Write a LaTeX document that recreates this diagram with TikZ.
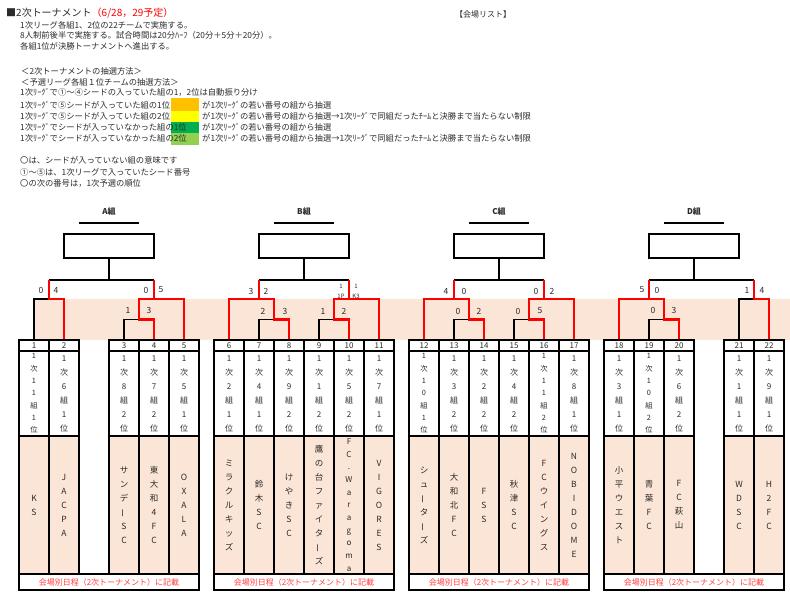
\documentclass[tikz,border=0pt]{standalone}
\usepackage{fontspec}
\setmainfont{Noto Sans CJK JP}
\definecolor{peach}{HTML}{FBE5D6}
\definecolor{txt}{HTML}{2B2B2B}
\definecolor{redline}{HTML}{FF0000}
\definecolor{foot}{HTML}{FF3F3F}
\definecolor{cOrange}{HTML}{FFC000}
\definecolor{cYellow}{HTML}{FFFF00}
\definecolor{cGreen}{HTML}{00B050}
\definecolor{cLGreen}{HTML}{92D050}
\newcommand\vbar{\rotatebox[origin=c]{90}{ー}}
\tikzset{
  tline/.style={anchor=west, inner sep=0pt, text=txt, font=\fontsize{8.3}{10}\selectfont},
  brk/.style={line width=1.3pt, black},
  win/.style={line width=2.8pt, redline},
  score/.style={inner sep=0pt, text=txt, font=\fontsize{8.5}{10}\selectfont},
  small/.style={inner sep=0pt, text=txt, font=\fontsize{6}{7}\selectfont},
  cellbase/.style={draw, line width=2.5pt, minimum width=30pt, inner sep=0pt, text=txt, align=center},
  hdr/.style={cellbase, minimum height=11pt, font=\fontsize{8}{9}\selectfont},
  inf/.style={cellbase, minimum height=85pt, font=\fontsize{8}{14}\selectfont},
  inflong/.style={font=\fontsize{7.3}{12.3}\selectfont},
  nam/.style={cellbase, fill=peach, minimum height=138pt, font=\fontsize{8.5}{14}\selectfont},
  namlong/.style={font=\fontsize{8}{12.7}\selectfont},
  footer/.style={draw, line width=2.5pt, minimum width=180pt, minimum height=16pt, inner sep=0pt, text=foot, font=\fontsize{8}{9}\selectfont},
  wbox/.style={draw, line width=2.6pt, minimum width=90pt, minimum height=24pt, inner sep=0pt},
  glabel/.style={inner sep=0pt, text=txt, font=\bfseries\fontsize{8}{9}\selectfont},
  swatch/.style={draw=none, minimum width=28pt, inner sep=0pt}
}
\newcommand\team[6]{%
  \node[hdr] (t#1) at (#2,345.5) {#1};
  \node[inf,#5] (i#1) at (#2,393.5) {#3};
  \node[nam,#6] (n#1) at (#2,505) {#4};
}
\begin{document}
\begin{tikzpicture}[x=1pt,y=-1pt]
\useasboundingbox (0,0) rectangle (790,601);
\fill[white] (0,0) rectangle (790,601);

% ---------- header text ----------
\node[anchor=west, inner sep=0pt, text=txt, font=\fontsize{10}{12}\selectfont] (title) at (6,13)
  {■2次トーナメント\textcolor{redline}{（6/28，29予定）}};
\node[inner sep=0pt, text=txt, font=\fontsize{8}{10}\selectfont] (venue) at (483,14) {【会場リスト】};
\node[tline] (l1) at (20,25) {1次リーグ各組1、2位の22チームで実施する。};
\node[tline] (l2) at (20,35.5) {8人制前後半で実施する。試合時間は20分ﾊｰﾌ（20分＋5分＋20分）。};
\node[tline] (l3) at (20,46) {各組1位が決勝トーナメントへ進出する。};
\node[tline] (l4) at (21,71) {＜2次トーナメントの抽選方法＞};
\node[tline] (l5) at (21,82) {＜予選リーグ各組１位チームの抽選方法＞};

\node[swatch, fill=cOrange, minimum height=13.5pt] (s1) at (185,104.75) {};
\node[swatch, fill=cYellow, minimum height=11pt] (s2) at (185,117) {};
\node[swatch, fill=cGreen, minimum height=11pt] (s3) at (185,128) {};
\node[swatch, fill=cLGreen, minimum height=11.5pt] (s4) at (185,139.25) {};

\node[tline] (l6) at (20,92.3) {1次ﾘｰｸﾞで①～④シードの入っていた組の1，2位は自動振り分け};
\node[tline] (l7) at (20,105.7) {1次ﾘｰｸﾞで⑤シードが入っていた組の1位};
\node[tline] (l8) at (20,116.7) {1次ﾘｰｸﾞで⑤シードが入っていた組の2位};
\node[tline] (l9) at (20,127.3) {1次ﾘｰｸﾞでシードが入っていなかった組の1位};
\node[tline] (l10) at (20,138.3) {1次ﾘｰｸﾞでシードが入っていなかった組の2位};
\node[tline] (r7) at (202,105.7) {が1次ﾘｰｸﾞの若い番号の組から抽選};
\node[tline] (r8) at (202,116.7) {が1次ﾘｰｸﾞの若い番号の組から抽選→1次ﾘｰｸﾞで同組だったﾁｰﾑと決勝まで当たらない制限};
\node[tline] (r9) at (202,127.3) {が1次ﾘｰｸﾞの若い番号の組から抽選};
\node[tline] (r10) at (202,138.3) {が1次ﾘｰｸﾞの若い番号の組から抽選→1次ﾘｰｸﾞで同組だったﾁｰﾑと決勝まで当たらない制限};
\node[tline] (l11) at (20,160.7) {〇は、シードが入っていない組の意味です};
\node[tline] (l12) at (20,172.3) {①～⑤は、1次リーグで入っていたシード番号};
\node[tline] (l13) at (20,183.5) {〇の次の番号は，1次予選の順位};

% ---------- peach band ----------
\fill[peach] (34,299) rectangle (790,340);

% ---------- group headers ----------
\node[glabel] (gA) at (109,211) {A組};
\node[glabel] (gB) at (304,211) {B組};
\node[glabel] (gC) at (499,211) {C組};
\node[glabel] (gD) at (694,211) {D組};
\foreach \c in {109,304,499,694} \draw[line width=1.2pt] (\c-30,223) -- (\c+30,223);
\node[wbox] (bA) at (109,246) {};
\node[wbox] (bB) at (304,246) {};
\node[wbox] (bC) at (499,246) {};
\node[wbox] (bD) at (694,246) {};

% ---------- teams ----------
\team{1}{34}{1\\次\\1\\1\\組\\1\\位}{K\\S}{inflong}{}
\team{2}{64}{1\\次\\6\\組\\1\\位}{J\\A\\C\\P\\A}{}{}
\team{3}{124}{1\\次\\8\\組\\2\\位}{サ\\ン\\デ\\\vbar\\S\\C}{}{}
\team{4}{154}{1\\次\\7\\組\\2\\位}{東\\大\\和\\4\\F\\C}{}{}
\team{5}{184}{1\\次\\5\\組\\1\\位}{O\\X\\A\\L\\A}{}{}
\team{6}{229}{1\\次\\2\\組\\1\\位}{ミ\\ラ\\ク\\ル\\キ\\ッ\\ズ}{}{}
\team{7}{259}{1\\次\\4\\組\\1\\位}{鈴\\木\\S\\C}{}{}
\team{8}{289}{1\\次\\9\\組\\2\\位}{け\\や\\き\\S\\C}{}{}
\team{9}{319}{1\\次\\1\\組\\2\\位}{鷹\\の\\台\\フ\\ァ\\イ\\タ\\\vbar\\ズ}{}{}
\team{10}{349}{1\\次\\5\\組\\2\\位}{F\\C\\.\\W\\a\\r\\a\\g\\o\\m\\a}{}{namlong}
\team{11}{379}{1\\次\\7\\組\\1\\位}{V\\I\\G\\O\\R\\E\\S}{}{}
\team{12}{424}{1\\次\\1\\0\\組\\1\\位}{シ\\ュ\\\vbar\\タ\\\vbar\\ズ}{inflong}{}
\team{13}{454}{1\\次\\3\\組\\2\\位}{大\\和\\北\\F\\C}{}{}
\team{14}{484}{1\\次\\2\\組\\2\\位}{F\\S\\S}{}{}
\team{15}{514}{1\\次\\4\\組\\2\\位}{秋\\津\\S\\C}{}{}
\team{16}{544}{1\\次\\1\\1\\組\\2\\位}{F\\C\\ウ\\イ\\ン\\グ\\ス}{inflong}{}
\team{17}{574}{1\\次\\8\\組\\1\\位}{N\\O\\B\\I\\D\\O\\M\\E}{}{}
\team{18}{619}{1\\次\\3\\組\\1\\位}{小\\平\\ウ\\エ\\ス\\ト}{}{}
\team{19}{649}{1\\次\\1\\0\\組\\2\\位}{青\\葉\\F\\C}{inflong}{}
\team{20}{679}{1\\次\\6\\組\\2\\位}{F\\C\\萩\\山}{}{}
\team{21}{739}{1\\次\\1\\組\\1\\位}{W\\D\\S\\C}{}{}
\team{22}{769}{1\\次\\9\\組\\1\\位}{H\\2\\F\\C}{}{}

\node[footer] (fA) at (109,582) {会場別日程（2次トーナメント）に記載};
\node[footer] (fB) at (304,582) {会場別日程（2次トーナメント）に記載};
\node[footer] (fC) at (499,582) {会場別日程（2次トーナメント）に記載};
\node[footer] (fD) at (694,582) {会場別日程（2次トーナメント）に記載};

% ---------- brackets: black ----------
\draw[brk] (bA.south) -- (bA.south |- 0,280);
\draw[brk] (bB.south) -- (bB.south |- 0,280);
\draw[brk] (bC.south) -- (bC.south |- 0,280);
\draw[brk] (bD.south) -- (bD.south |- 0,280);
\draw[brk] (49,280) -- (154,280);
\draw[brk] (259,280) -- (349,280);
\draw[brk] (454,280) -- (544,280);
\draw[brk] (649,280) -- (754,280);
\draw[brk] (t1.north) |- (49,299);
\draw[brk] (t3.north) |- (139,319.5);
\draw[brk] (t7.north) |- (274,319.5);
\draw[brk] (t9.north) |- (334,319.5);
\draw[brk] (t13.north) |- (469,319.5);
\draw[brk] (t15.north) |- (529,319.5);
\draw[brk] (t19.north) |- (664,319.5);
\draw[brk] (t21.north) |- (754,299);

% ---------- brackets: winners (red) ----------
\draw[win] (t2.north) |- (49,299) -- (49,280);
\draw[win] (t4.north) |- (139,319.5) -- (139,299) -| (t5.north);
\draw[win] (154,299) -- (154,280);
\draw[win] (t8.north) |- (274,319.5) -- (274,299) -| (t6.north);
\draw[win] (259,299) -- (259,280);
\draw[win] (t10.north) |- (334,319.5) -- (334,299) -| (t11.north);
\draw[win] (349,299) -- (349,280);
\draw[win] (t14.north) |- (469,319.5) -- (469,299) -| (t12.north);
\draw[win] (454,299) -- (454,280);
\draw[win] (t16.north) |- (529,319.5) -- (529,299) -| (t17.north);
\draw[win] (544,299) -- (544,280);
\draw[win] (t20.north) |- (664,319.5) -- (664,299) -| (t18.north);
\draw[win] (649,299) -- (649,280);
\draw[win] (t22.north) |- (754,299) -- (754,280);

% ---------- scores ----------
\node[score] (sa1) at (41,290) {0};
\node[score] (sa2) at (56,290) {4};
\node[score] (sa3) at (146,290) {0};
\node[score] (sa4) at (161,290) {5};
\node[score] (sa5) at (128,310) {1};
\node[score] (sa6) at (149,310) {3};
\node[score] (sb1) at (251,291) {3};
\node[score] (sb2) at (266,291) {2};
\node[score] (sb3) at (263,311) {2};
\node[score] (sb4) at (285,311) {3};
\node[score] (sb5) at (323,311) {1};
\node[score] (sb6) at (344,311) {2};
\node[small] (sb7) at (341,286) {1};
\node[small] (sb8) at (356,286) {1};
\node[small] (sb9) at (341,296) {1P};
\node[small] (sb10) at (356,296) {K3};
\node[score] (sc1) at (446,291) {4};
\node[score] (sc2) at (464,291) {0};
\node[score] (sc3) at (536,291) {0};
\node[score] (sc4) at (552,291) {2};
\node[score] (sc5) at (458,311) {0};
\node[score] (sc6) at (479,311) {2};
\node[score] (sc7) at (518,311) {0};
\node[score] (sc8) at (540,311) {5};
\node[score] (sd1) at (642,290) {5};
\node[score] (sd2) at (657,290) {0};
\node[score] (sd3) at (747,290) {1};
\node[score] (sd4) at (762,290) {4};
\node[score] (sd5) at (653,310) {0};
\node[score] (sd6) at (674,310) {3};
\end{tikzpicture}
\end{document}
